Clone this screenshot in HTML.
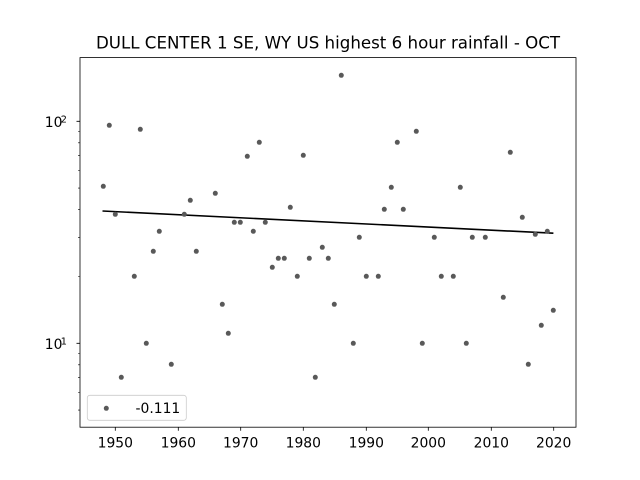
<!DOCTYPE html>
<html>
<head>
<meta charset="utf-8">
<style>
html,body{margin:0;padding:0;background:#fff}
svg{display:block}
text{font-family:"DejaVu Sans","Liberation Sans",sans-serif;fill:#000}
</style>
</head>
<body>
<svg width="640" height="480" viewBox="0 0 640 480" xmlns="http://www.w3.org/2000/svg">
<defs>
<marker id="dot" viewBox="0 0 6 6" refX="3" refY="3" markerWidth="6" markerHeight="6" markerUnits="userSpaceOnUse">
<circle cx="3" cy="3" r="2.5" fill="#595959"/>
</marker>
</defs>
<rect width="640" height="480" fill="#fff"/>
<text x="328" y="48.7" font-size="16.67" text-anchor="middle">DULL CENTER 1 SE, WY US highest 6 hour rainfall - OCT</text>
<line x1="102.5" y1="211" x2="553.4" y2="233.2" stroke="#000" stroke-width="1.6"/>
<polyline fill="none" stroke="none" marker-start="url(#dot)" marker-mid="url(#dot)" marker-end="url(#dot)"
points="103.3,186.3 109.3,125.3 115.3,214.3 121.3,377.3 134.3,276.3 140.3,129.3 146.3,343.3 153.3,251.3 159.3,231.3 171.3,364.3 184.3,214.3 190.3,200.3 196.3,251.3 215.3,193.3 222.3,304.3 228.3,333.3 234.3,222.3 240.3,222.3 247.3,156.3 253.3,231.3 259.3,142.3 265.3,222.3 272.3,267.3 278.3,258.3 284.3,258.3 290.3,207.3 297.3,276.3 303.3,155.3 309.3,258.3 315.3,377.3 322.3,247.3 328.3,258.3 334.3,304.3 341.3,75.3 353.3,343.3 359.3,237.3 366.3,276.3 378.3,276.3 384.3,209.3 391.3,187.3 397.3,142.3 403.3,209.3 416.3,131.3 422.3,343.3 434.3,237.3 441.3,276.3 453.3,276.3 460.3,187.3 466.3,343.3 472.3,237.3 485.3,237.3 503.3,297.3 510.3,152.3 522.3,217.3 528.3,364.3 535.3,234.3 541.3,325.3 547.3,231.3 553.3,310.3"/>
<rect x="80" y="57.6" width="496" height="369.6" fill="none" stroke="#000" stroke-width="0.8"/>
<path stroke="#000" stroke-width="0.8" fill="none" d="M115.3 427.2v3.5M178.3 427.2v3.5M240.7 427.2v3.5M303.3 427.2v3.5M366.3 427.2v3.5M428.3 427.2v3.5M491.3 427.2v3.5M553.7 427.2v3.5M76.5 121.3h3.5M76.5 343.3h3.5"/>
<path stroke="#000" stroke-width="0.6" fill="none" d="M78 410.1h2M78 392.5h2M78 377.7h2M78 364.8h2M78 353.5h2M78 276.5h2M78 237.4h2M78 209.6h2M78 188.1h2M78 170.5h2M78 155.7h2M78 142.8h2M78 131.5h2"/>
<g font-size="13.89" text-anchor="middle">
<text x="115.3" y="447.7">1950</text>
<text x="178.3" y="447.7">1960</text>
<text x="240.7" y="447.7">1970</text>
<text x="303.3" y="447.7">1980</text>
<text x="366.3" y="447.7">1990</text>
<text x="428.3" y="447.7">2000</text>
<text x="491.3" y="447.7">2010</text>
<text x="553.7" y="447.7">2020</text>
</g>
<text x="44.8" y="127.1" font-size="13.89">10</text>
<text x="60.8" y="122.3" font-size="9.7">2</text>
<text x="44.8" y="349.1" font-size="13.89">10</text>
<text x="60.8" y="344.3" font-size="9.7">1</text>
<rect x="87.3" y="395.3" width="99" height="25" rx="2.5" fill="#fff" fill-opacity="0.8" stroke="#ccc" stroke-width="0.8"/>
<circle cx="106.3" cy="408.3" r="2.5" fill="#595959"/>
<text x="135.5" y="413.2" font-size="13.89">-0.111</text>
</svg>
</body>
</html>
